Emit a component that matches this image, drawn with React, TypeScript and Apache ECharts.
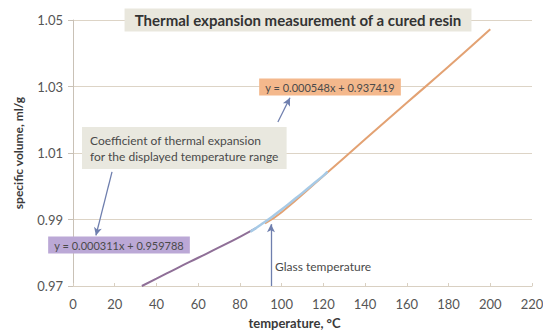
import React, { useEffect, useRef } from "react";
import * as echarts from "echarts";

const xTicks = [0, 20, 40, 60, 80, 100, 120, 140, 160, 180, 200, 220];
const yTicks = [0.97, 0.99, 1.01, 1.03, 1.05];

// glassy region (purple)
const glassyT = [33, 40, 50, 60, 70, 80, 88];
const glassyV = [0.9700, 0.9722, 0.9754, 0.9785, 0.9816, 0.9848, 0.9875];
// transition region (light blue)
const transT = [85, 90, 95, 100, 105, 110, 115, 120, 122];
const transV = [0.9863, 0.9884, 0.9906, 0.9930, 0.9955, 0.9980, 1.0006, 1.0032, 1.0044];
// rubbery region (orange)
const rubberT = [92, 100, 120, 140, 160, 180, 200];
const rubberV = [0.9888, 0.9922, 1.0031, 1.0141, 1.0251, 1.0360, 1.0472];

const title = "Thermal expansion measurement of a cured resin";
const fitRubber = "y = 0.000548x + 0.937419";
const fitGlassy = "y = 0.000311x + 0.959788";
const noteLines = ["Coefficient of thermal expansion", "for the displayed temperature range"];
const glassLabel = "Glass temperature";
const xName = "temperature, °C";
const yName = "specific volume, ml/g";

// arrows in data coordinates [from, to]
const arrows = [
  [[98.2, 1.0193], [104, 1.0266]],
  [[18.7, 1.0043], [11, 0.9852]],
  [[94.9, 0.9700], [94.9, 0.9886]],
];

const zip = (a: number[], b: number[]) => a.map((v, i) => [v, b[i]]);

const FONT = "Lato, 'Open Sans', sans-serif";

export default function App() {
  const ref = useRef<HTMLDivElement>(null);
  useEffect(() => {
    document.body.style.margin = "0";
    const chart = echarts.init(ref.current!, null, { renderer: "svg" });
    const arrowColor = "#6f7fae";
    chart.setOption({
      animation: false,
      backgroundColor: "#ffffff",
      textStyle: { fontFamily: FONT },
      grid: { left: 73, right: 11, top: 20, bottom: 45, containLabel: false, outerBoundsMode: "none" },
      xAxis: {
        type: "value",
        min: 0,
        max: 220,
        interval: 20,
        name: xName,
        nameLocation: "middle",
        nameGap: 30,
        nameTextStyle: { fontFamily: FONT, fontWeight: "bold", fontSize: 13, color: "#3a3a3a", padding: [0, 16, 0, 0] },
        axisLine: { lineStyle: { color: "#d9d0c2", width: 1 } },
        axisTick: { inside: true, length: 3, lineStyle: { color: "#d9d0c2" } },
        axisLabel: { fontFamily: FONT, fontSize: 13, color: "#555555", margin: 11 },
        splitLine: { show: false },
      },
      yAxis: {
        type: "value",
        min: 0.97,
        max: 1.05,
        interval: 0.02,
        name: yName,
        nameLocation: "middle",
        nameGap: 49,
        nameTextStyle: { fontFamily: FONT, fontWeight: "bold", fontSize: 12, color: "#3a3a3a" },
        axisLine: { show: true, lineStyle: { color: "#c9c1b6", width: 1 } },
        axisTick: { show: true, length: 5, lineStyle: { color: "#c9c1b6" } },
        axisLabel: { fontFamily: FONT, fontSize: 13, color: "#555555", margin: 10, formatter: (v: number) => v.toFixed(2) },
        splitLine: { show: true, lineStyle: { color: "#ddd4c6", width: 1 } },
      },
      series: [
        {
          type: "line",
          data: zip(rubberT, rubberV),
          showSymbol: false,
          smooth: true,
          lineStyle: { color: "#e3a273", width: 2 },
          z: 2,
        },
        {
          type: "line",
          data: zip(glassyT, glassyV),
          showSymbol: false,
          smooth: true,
          lineStyle: { color: "#8f6f97", width: 2 },
          z: 3,
        },
        {
          type: "line",
          data: zip(transT, transV),
          showSymbol: false,
          smooth: true,
          lineStyle: { color: "#a7cae6", width: 2.5 },
          z: 4,
          markLine: {
            silent: true,
            symbol: ["none", "arrow"],
            symbolSize: [6, 8],
            label: { show: false },
            lineStyle: { color: arrowColor, width: 1.3, type: "solid" },
            data: arrows.map(([a, b]) => [{ coord: a }, { coord: b }]),
          },
        },
      ],
      graphic: [
        {
          type: "text",
          x: 298,
          y: 20,
          style: {
            text: title,
            fontFamily: FONT,
            fontWeight: "bold",
            fontSize: 15,
            fill: "#333333",
            align: "center",
            verticalAlign: "middle",
            backgroundColor: "#e9e7dd",
            padding: [4, 10, 4, 10],
          },
          z: 10,
        },
        {
          type: "text",
          x: 330,
          y: 87,
          style: {
            text: fitRubber,
            fontFamily: FONT,
            fontSize: 11,
            fill: "#4a4a4a",
            align: "center",
            verticalAlign: "middle",
            backgroundColor: "#f4b88c",
            padding: [3, 6, 3, 6],
          },
          z: 10,
        },
        {
          type: "text",
          x: 82,
          y: 127,
          style: {
            text: noteLines.join("\n"),
            fontFamily: FONT,
            fontSize: 12,
            lineHeight: 16,
            fill: "#4a4a4a",
            align: "left",
            verticalAlign: "top",
            backgroundColor: "#e9e8df",
            padding: [5, 8, 5, 8],
          },
          z: 10,
        },
        {
          type: "text",
          x: 119,
          y: 245,
          style: {
            text: fitGlassy,
            fontFamily: FONT,
            fontSize: 11,
            fill: "#4a4a4a",
            align: "center",
            verticalAlign: "middle",
            backgroundColor: "#bba8d6",
            padding: [3, 6, 3, 6],
          },
          z: 10,
        },
        {
          type: "text",
          x: 275,
          y: 266,
          style: {
            text: glassLabel,
            fontFamily: FONT,
            fontSize: 12,
            fill: "#4a4a4a",
            align: "left",
            verticalAlign: "middle",
          },
          z: 10,
        },
      ],
    });
    return () => chart.dispose();
  }, []);
  return <div ref={ref} style={{ width: 543, height: 331 }} />;
}
